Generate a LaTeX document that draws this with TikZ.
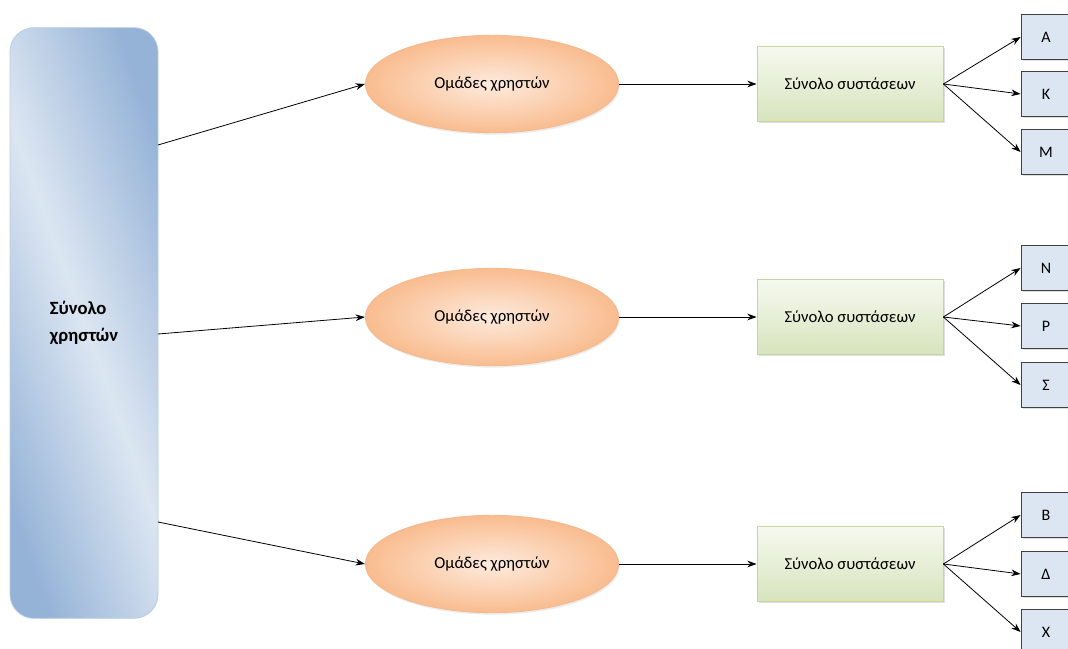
\documentclass[tikz,border=0pt]{standalone}
\usepackage{fontspec}
\setmainfont{Carlito}
\usetikzlibrary{positioning,arrows,arrows.meta,shapes,shadows}
\definecolor{userdark}{HTML}{95B3D7}
\definecolor{userlight}{HTML}{DCE6F2}
\definecolor{userline}{HTML}{B9CDE5}
\definecolor{grpdark}{HTML}{F9BC8F}
\definecolor{grplight}{HTML}{FDEBDD}
\definecolor{grpline}{HTML}{F3B98F}
\definecolor{recdark}{HTML}{D7E4BD}
\definecolor{reclight}{HTML}{F6F9EF}
\definecolor{recline}{HTML}{C3D69B}
\definecolor{itemfill}{HTML}{DCE6F2}
\definecolor{itemline}{HTML}{404040}
\tikzset{
usersbox/.style={rounded corners=18pt, draw=userline,
    minimum width=111pt, minimum height=443pt,
    left color=userdark, right color=userdark, middle color=userlight,
    shading angle=110, font=\fontsize{14}{20}\selectfont\bfseries, align=left},
groupell/.style={ellipse, draw=grpline, inner color=grplight, outer color=grpdark,
    minimum width=190pt, minimum height=73pt, font=\fontsize{12.5}{14}\selectfont,
    drop shadow={opacity=0.15, shadow xshift=0.8pt, shadow yshift=-1.5pt}},
recbox/.style={draw=recline, top color=reclight, bottom color=recdark,
    minimum width=139.5pt, minimum height=56pt, font=\fontsize{12.5}{14}\selectfont,
    drop shadow={opacity=0.25, shadow xshift=1.2pt, shadow yshift=-1.2pt}},
itembox/.style={draw=itemline, fill=itemfill, minimum width=37.5pt,
    minimum height=34pt, font=\fontsize{12}{14}\selectfont,
    drop shadow={opacity=0.25, shadow xshift=1.2pt, shadow yshift=-1.2pt}}
}

\begin{document}
\begin{tikzpicture}[>={Stealth[length=7pt,width=5pt]}, x=0.75pt, y=-0.75pt, line width=0.6pt]
\useasboundingbox (0,0) rectangle (1068,649);

\node[usersbox] (users) at (84,323) {Σύνολο\\χρηστών};
\coordinate (u1) at (158,145);
\coordinate (u2) at (158,334);
\coordinate (u3) at (158,522);

\node[groupell] (grp1) at (492,84) {Ομάδες χρηστών};
\node[groupell] (grp2) at (492,317) {Ομάδες χρηστών};
\node[groupell] (grp3) at (492,564) {Ομάδες χρηστών};

\node[recbox] (rec1) at (850,84) {Σύνολο συστάσεων};
\node[recbox] (rec2) at (850,317) {Σύνολο συστάσεων};
\node[recbox] (rec3) at (850,564) {Σύνολο συστάσεων};

\node[itembox] (a) at (1046,37) {Α};
\node[itembox] (k) at (1046,94) {Κ};
\node[itembox] (m) at (1046,152) {Μ};
\node[itembox] (n) at (1046,268) {Ν};
\node[itembox] (r) at (1046,326) {Ρ};
\node[itembox] (s) at (1046,385) {Σ};
\node[itembox] (b) at (1046,515) {Β};
\node[itembox] (d) at (1046,574) {Δ};
\node[itembox] (x) at (1046,632) {Χ};

\draw[->] (u1) -- (grp1.west);
\draw[->] (u2) -- (grp2.west);
\draw[->] (u3) -- (grp3.west);

\draw[->] (grp1) -- (rec1);
\draw[->] (grp2) -- (rec2);
\draw[->] (grp3) -- (rec3);

\draw[->] (rec1.east) -- (a.west);
\draw[->] (rec1.east) -- (k.west);
\draw[->] (rec1.east) -- (m.west);
\draw[->] (rec2.east) -- (n.west);
\draw[->] (rec2.east) -- (r.west);
\draw[->] (rec2.east) -- (s.west);
\draw[->] (rec3.east) -- (b.west);
\draw[->] (rec3.east) -- (d.west);
\draw[->] (rec3.east) -- (x.west);
\end{tikzpicture}
\end{document}
